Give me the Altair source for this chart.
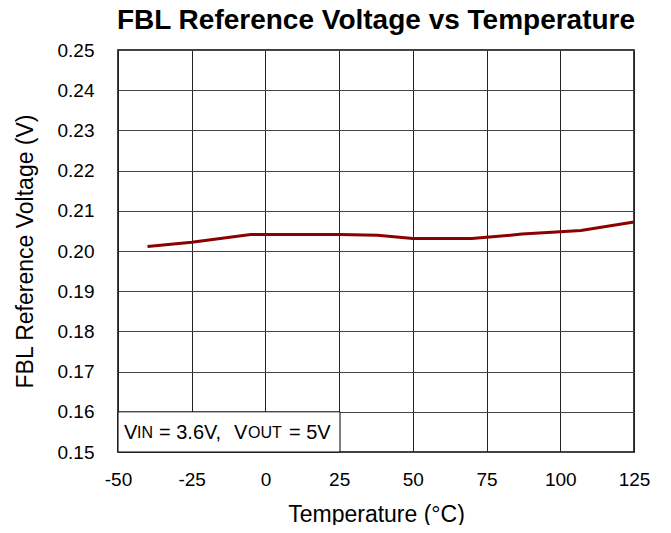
import altair as alt
import pandas as pd

temps = [-40, -25, -5, 25, 38, 50, 70, 75, 87, 100, 107, 125]
volts = [0.2011, 0.2022, 0.2041, 0.2041, 0.2039, 0.2031, 0.2031, 0.2034, 0.2042, 0.2048, 0.2051, 0.2072]

x_ticks = [-50, -25, 0, 25, 50, 75, 100, 125]
y_ticks = [0.15, 0.16, 0.17, 0.18, 0.19, 0.20, 0.21, 0.22, 0.23, 0.24, 0.25]

df = pd.DataFrame({"t": temps, "v": volts})

FONT = "Liberation Sans"
xs = alt.Scale(domain=[-50, 125], nice=False, zero=False)
ys = alt.Scale(domain=[0.15, 0.25], nice=False, zero=False)

line = alt.Chart(df).mark_line(color="#8B0000", strokeWidth=3).encode(
    x=alt.X("t:Q", scale=xs, axis=alt.Axis(
        values=x_ticks, title="Temperature (°C)", grid=True, gridColor="#222222",
        labelExpr="toString(datum.value)", labelFlush=False,
        gridOpacity=1, gridWidth=1, ticks=False, domain=False, labelFontSize=19,
        labelPadding=18, titleFontSize=23, titleFontWeight="normal", titlePadding=14,
        labelColor="black", titleColor="black", labelFont=FONT, titleFont=FONT)),
    y=alt.Y("v:Q", scale=ys, axis=alt.Axis(
        values=y_ticks, format=".2f", title="FBL Reference Voltage (V)", grid=True,
        labelFlush=False,
        gridColor="#444444", gridOpacity=1, gridWidth=1, ticks=False, domain=False,
        labelFontSize=19, labelPadding=24, titleFontSize=23, titleFontWeight="normal",
        titlePadding=20, labelColor="black", titleColor="black", labelFont=FONT, titleFont=FONT)),
)

box_df = pd.DataFrame({"x1": [-50], "x2": [25.3], "y1": [0.15], "y2": [0.16]})
box = alt.Chart(box_df).mark_rect(fill="white", stroke="black", strokeWidth=1).encode(
    x=alt.X("x1:Q", scale=xs), x2="x2", y=alt.Y("y1:Q", scale=ys), y2="y2")

seg_txt = ["V", "IN", "= 3.6V,", "V", "OUT", "= 5V"]
seg_dx = [6, 19, 41, 116, 130, 171]
seg_size = [20, 16, 20, 20, 16, 20]
texts = []
for t, dx, sz in zip(seg_txt, seg_dx, seg_size):
    d = pd.DataFrame({"x": [-50], "y": [0.155], "txt": [t]})
    texts.append(alt.Chart(d).mark_text(align="left", baseline="middle", dx=dx, dy=1,
                                        fontSize=sz, font=FONT, color="black").encode(
        x=alt.X("x:Q", scale=xs), y=alt.Y("y:Q", scale=ys), text="txt:N"))

chart = alt.layer(line, box, *texts).properties(
    width=516, height=402,
    title=alt.TitleParams("FBL Reference Voltage vs Temperature", fontSize=28, fontWeight="bold",
                          font=FONT, color="black", anchor="middle", offset=6),
    autosize=alt.AutoSizeParams(type="none"),
    padding={"left": 110, "top": 42, "right": 29, "bottom": 73},
).configure_view(stroke="black", strokeWidth=1.5)

chart.save("out.html", embed_options={"renderer": "svg", "actions": False})
